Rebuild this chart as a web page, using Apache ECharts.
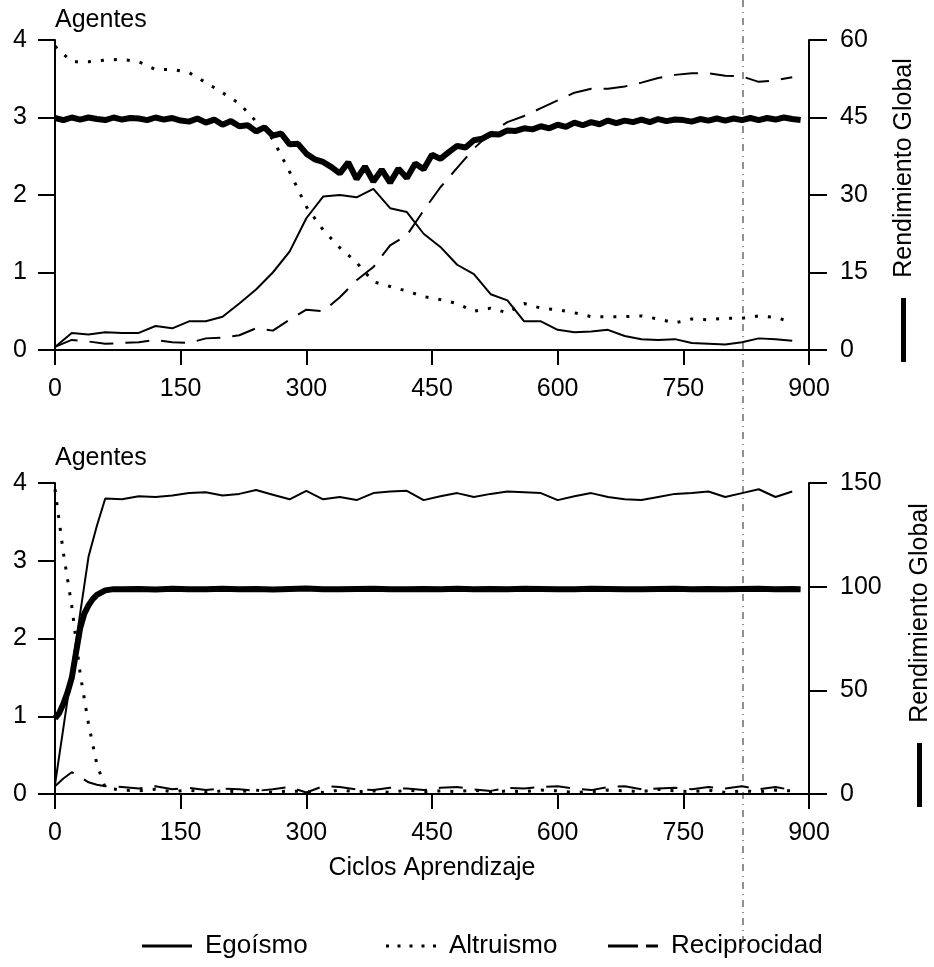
<!DOCTYPE html>
<html>
<head>
<meta charset="utf-8">
<title>Agentes y Rendimiento Global</title>
<script src="https://cdn.jsdelivr.net/npm/echarts/dist/echarts.min.js"></script>
<style>
 html,body{margin:0;padding:0;background:#fff;}
 #grafico{width:934px;height:967px;}
</style>
</head>
<body>
<div id="grafico"></div>
<script>
// ciclos de aprendizaje (eje x)
var ciclos=[0,20,40,60,80,100,120,140,160,180,200,220,240,260,280,300,320,340,360,380,400,420,440,460,480,500,520,540,560,580,600,620,640,660,680,700,720,740,760,780,800,820,840,860,880];
var ciclosInf=[0,10,20,30,40,50,60,80,100,120,140,160,180,200,220,240,260,280,300,320,340,360,380,400,420,440,460,480,500,520,540,560,580,600,620,640,660,680,700,720,740,760,780,800,820,840,860,880];
var ciclosRendSup=[0,10,20,30,40,50,60,70,80,90,100,110,120,130,140,150,160,170,180,190,200,210,220,230,240,250,260,270,280,290,300,310,320,330,340,350,360,370,380,390,400,410,420,430,440,450,460,470,480,490,500,510,520,530,540,550,560,570,580,590,600,610,620,630,640,650,660,670,680,690,700,710,720,730,740,750,760,770,780,790,800,810,820,830,840,850,860,870,880,890];
var ciclosRendInf=[0,5,10,15,20,25,30,35,40,45,50,60,70,80,100,120,140,160,180,200,220,240,260,280,300,320,340,360,380,400,420,440,460,480,500,520,540,560,580,600,620,640,660,680,700,720,740,760,780,800,820,840,860,880,890];

// grafico superior
var egoismoSup=[0.04,0.22,0.2,0.23,0.22,0.22,0.31,0.28,0.37,0.37,0.43,0.6,0.78,1.0,1.27,1.7,1.98,2.0,1.97,2.08,1.83,1.78,1.5,1.33,1.1,0.98,0.72,0.64,0.37,0.37,0.26,0.23,0.24,0.26,0.18,0.14,0.13,0.14,0.09,0.08,0.07,0.1,0.15,0.14,0.12];
var altruismoSup=[3.92,3.72,3.72,3.74,3.75,3.72,3.62,3.62,3.58,3.45,3.32,3.18,2.95,2.72,2.3,1.85,1.55,1.32,1.13,0.88,0.82,0.76,0.69,0.65,0.6,0.5,0.54,0.48,0.6,0.54,0.52,0.48,0.43,0.43,0.43,0.44,0.4,0.35,0.4,0.39,0.41,0.41,0.44,0.42,0.36];
var reciprocidadSup=[0.04,0.13,0.11,0.08,0.09,0.1,0.13,0.1,0.09,0.15,0.16,0.19,0.28,0.25,0.39,0.52,0.5,0.68,0.9,1.07,1.35,1.48,1.8,2.1,2.35,2.6,2.8,2.94,3.02,3.12,3.22,3.32,3.37,3.37,3.4,3.45,3.51,3.55,3.57,3.57,3.54,3.53,3.46,3.48,3.52];
var rendimientoSup=[44.9,44.5,45.0,44.6,45.0,44.7,44.5,45.0,44.6,44.9,44.8,44.5,45.0,44.6,44.9,44.4,
 44.2,44.8,44.0,44.6,
 43.6,44.3,43.3,43.5,42.3,43.1,41.5,41.9,39.8,39.9,
 38.0,36.9,36.4,35.4,34.2,36.3,33.1,35.5,32.6,34.9,
 32.4,35.1,33.3,36.1,35.0,37.8,37.0,38.3,39.5,39.2,
 40.6,40.9,41.8,41.7,42.5,42.4,42.9,42.7,43.3,42.9,
 43.6,43.2,44.0,43.5,44.1,43.7,44.4,43.9,44.4,44.1,
 44.6,44.1,44.7,44.3,44.6,44.5,44.2,44.7,44.4,44.8,
 44.4,44.8,44.5,44.9,44.5,44.9,44.6,45.0,44.7,44.5];

// grafico inferior
var egoismoInf=[0.12,0.85,1.58,2.32,3.05,3.45,3.8,3.79,3.83,3.82,3.84,3.87,3.88,3.84,3.86,3.91,3.85,3.79,3.9,3.79,3.82,3.78,3.87,3.89,3.9,3.78,3.83,3.87,3.82,3.86,3.89,3.88,3.87,3.78,3.83,3.87,3.82,3.79,3.78,3.82,3.86,3.87,3.89,3.82,3.87,3.92,3.82,3.89];
var altruismoInf=[3.92,3.1,2.42,1.55,0.9,0.38,0.08,0.05,0.04,0.06,0.03,0.05,0.02,0.04,0.03,0.05,0.02,0.04,0.03,0.02,0.05,0.03,0.04,0.02,0.05,0.03,0.04,0.03,0.05,0.02,0.04,0.03,0.05,0.04,0.02,0.03,0.05,0.04,0.03,0.06,0.04,0.03,0.05,0.02,0.04,0.03,0.05,0.04];
var reciprocidadInf=[0.1,0.2,0.28,0.22,0.15,0.12,0.1,0.09,0.07,0.1,0.06,0.08,0.05,0.07,0.06,0.04,0.06,0.09,0.02,0.1,0.09,0.06,0.05,0.08,0.07,0.05,0.08,0.09,0.06,0.04,0.08,0.07,0.09,0.1,0.07,0.05,0.09,0.1,0.06,0.07,0.08,0.06,0.09,0.07,0.1,0.06,0.09,0.05];
var rendimientoInf=[36.5,39,43.5,49,56,68,80,87,91,94,96,98.2,98.8,98.7,
 98.9,98.6,99.0,98.8,98.7,99.0,98.8,98.9,98.6,98.9,99.1,98.8,98.7,98.9,99.0,98.8,98.7,98.9,98.8,99.0,
 98.7,98.9,98.8,99.0,98.9,98.7,98.8,99.0,98.9,98.8,98.7,98.9,99.0,98.8,98.9,98.7,98.9,99.0,98.8,98.9,
 98.8];

var ticksIzq=[0,1,2,3,4];
var ticksDerSup=[0,15,30,45,60];
var ticksDerInf=[0,50,100,150];

var fuente='"Liberation Sans", Arial, Helvetica, sans-serif';

function pares(xs,ys){
    var out=[];
    for(var i=0;i<xs.length;i++){
        out.push([xs[i],ys[i]]);
    }
    return out;
}

function ejeX(grid,nombre){
    return {
        type:'value',gridIndex:grid,min:0,max:900,interval:150,
        name:nombre||'',nameLocation:'middle',nameGap:62,
        nameTextStyle:{fontSize:25,color:'#000',fontFamily:fuente},
        axisLine:{show:true,onZero:false,lineStyle:{color:'#000',width:2}},
        axisTick:{show:true,length:15,lineStyle:{color:'#000',width:2}},
        axisLabel:{margin:27,fontSize:25,color:'#000',fontFamily:fuente},
        splitLine:{show:false}
    };
}

function ejeY(grid,ticks,lado,nombre,gap){
    return {
        type:'value',gridIndex:grid,position:lado,
        min:ticks[0],max:ticks[ticks.length-1],interval:ticks[1]-ticks[0],
        name:nombre||'',nameLocation:'end',nameGap:gap||0,
        nameTextStyle:{fontSize:25,color:'#000',fontFamily:fuente,align:'left',verticalAlign:'bottom'},
        axisLine:{show:true,lineStyle:{color:'#000',width:2}},
        axisTick:{show:true,length:lado=='left'?17:18,lineStyle:{color:'#000',width:2}},
        axisLabel:{margin:lado=='left'?28:31,fontSize:25,color:'#000',fontFamily:fuente},
        splitLine:{show:false}
    };
}

var lineaEgo={color:'#000',width:2,type:'solid'};
var lineaAlt={color:'#000',width:3,type:[3,10],cap:'butt'};
var lineaRec={color:'#000',width:2,type:[24,12]};

function serie(nombre,xi,yi,xs,ys,estilo){
    return {
        name:nombre,type:'line',xAxisIndex:xi,yAxisIndex:yi,
        data:pares(xs,ys),symbol:'none',showSymbol:false,
        itemStyle:{color:'#000'},lineStyle:estilo,silent:true
    };
}

// leyenda: un componente por entrada para fijar su posicion
function leyenda(nombre,icono,x){
    return {
        data:[{name:nombre,icon:icono}],
        top:928,left:x,
        itemWidth:50,itemHeight:3,
        textStyle:{fontSize:26,color:'#000',fontFamily:fuente,padding:[0,0,0,8]}
    };
}

window.onload=function(){
    var chart=echarts.init(document.getElementById("grafico"));
    var option={
        animation:false,
        backgroundColor:'#fff',
        color:['#000'],
        textStyle:{fontFamily:fuente},
        grid:[
            {left:55,top:40,width:754,height:310},
            {left:55,top:483,width:754,height:311}
        ],
        xAxis:[ejeX(0),ejeX(1,'Ciclos Aprendizaje')],
        yAxis:[
            ejeY(0,ticksIzq,'left','Agentes',7),
            ejeY(0,ticksDerSup,'right'),
            ejeY(1,ticksIzq,'left','Agentes',12),
            ejeY(1,ticksDerInf,'right')
        ],
        legend:[
            leyenda('Egoísmo','path://M0,0H50V3H0Z',137),
            leyenda('Altruismo','path://M0,0h3v3h-3zM11.5,0h3v3h-3zM23.5,0h3v3h-3zM35.5,0h3v3h-3zM47,0h3v3h-3z',381),
            leyenda('Reciprocidad','path://M0,0h30v3h-30zM38,0h12v3h-12z',603)
        ],
        series:[
            {name:'Rendimiento',type:'line',xAxisIndex:0,yAxisIndex:1,data:pares(ciclosRendSup,rendimientoSup),
             symbol:'none',lineStyle:{color:'#000',width:6},silent:true},
            serie('Egoísmo',0,0,ciclos,egoismoSup,lineaEgo),
            serie('Altruismo',0,0,ciclos,altruismoSup,lineaAlt),
            serie('Reciprocidad',0,0,ciclos,reciprocidadSup,lineaRec),
            {name:'Rendimiento',type:'line',xAxisIndex:1,yAxisIndex:3,data:pares(ciclosRendInf,rendimientoInf),
             symbol:'none',lineStyle:{color:'#000',width:6},silent:true},
            serie('Egoísmo',1,2,ciclosInf,egoismoInf,lineaEgo),
            serie('Altruismo',1,2,ciclosInf,altruismoInf,lineaAlt),
            serie('Reciprocidad',1,2,ciclosInf,reciprocidadInf,lineaRec)
        ],
        graphic:[
            //linea vertical del escaneo
            {type:'line',silent:true,z:0,shape:{x1:743,y1:0,x2:743,y2:952},
             style:{stroke:'#222',lineWidth:1,lineDash:[7,5,1,5]}},
            {type:'text',x:904,y:168,rotation:Math.PI/2,silent:true,
             style:{text:'Rendimiento Global',fontSize:25,fontFamily:fuente,fill:'#000',align:'center',verticalAlign:'middle'}},
            {type:'rect',silent:true,shape:{x:901,y:298,width:5,height:64},style:{fill:'#000'}},
            {type:'text',x:920,y:613,rotation:Math.PI/2,silent:true,
             style:{text:'Rendimiento Global',fontSize:25,fontFamily:fuente,fill:'#000',align:'center',verticalAlign:'middle'}},
            {type:'rect',silent:true,shape:{x:917,y:743,width:5,height:64},style:{fill:'#000'}}
        ]
    };
    chart.setOption(option);
};
</script>
</body>
</html>
